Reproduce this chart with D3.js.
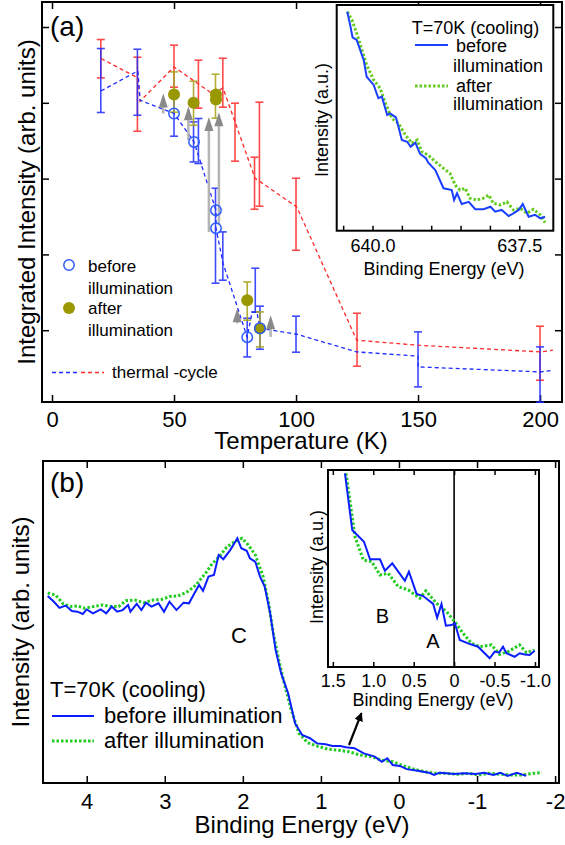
<!DOCTYPE html>
<html>
<head>
<meta charset="utf-8">
<script src="https://cdn.jsdelivr.net/npm/d3@7"></script>
<style>
  body { margin: 0; background: #fff; }
  text { font-family: "Liberation Sans", Arial, Helvetica, sans-serif; fill: #000; }
</style>
</head>
<body>
<script>
// ---- panel (a): integrated intensity vs temperature ----
var redLine = [[20.1,4.584],[35.2,4.329],[36.1,4.021],[50,4.474],[65.6,4.123],[70.1,4.193],[75,3.748],
  [83.2,3.005],[100.3,2.627],[124.9,0.868],[150,0.802],[200.2,0.714],[205.3,0.736]];
var redBars = [[20,4.329,4.835],[35,3.625,4.602],[50,4.206,4.760],[60,3.929,4.562],[70,3.942,4.588],
  [75,3.230,3.995],[83,2.596,3.282],[85,2.636,4.008],[100,2.055,3.005],[125,0.525,1.224],[200,0.340,1.053]];
var blueLine = [[20.1,4.157],[35.2,4.421],[36.1,4.034],[50,3.859],[58.2,3.484],[67.2,2.583],[67.2,2.346],
  [70.1,1.884],[80,0.908],[82,1.237],[84,1.237],[85.2,1.026],[100.3,0.947],[124.9,0.714],[150,0.657],
  [150,0.516],[200.2,0.450],[205.3,0.472]];
var blueBars = [[20,3.872,4.716],[35,3.836,4.707],[50,3.559,4.153],[58,3.220,3.748],[60,3.199,3.793],
  [67,1.620,2.873],[70,1.660,2.297],[80,0.648,1.158],[83.3,1.241,1.818],[85.2,0.749,1.317],
  [100,0.710,1.185],[150,0.252,0.978],[200,0.05,0.780]];
var oliveBars = [[50,3.876,4.408],[58,3.704,4.285],[67,3.797,4.377],[80,1.132,1.637],[85.2,0.780,1.241]];
var beforePts = [[50,3.859],[58.2,3.484],[67.2,2.583],[67.2,2.346],[80,0.908],[85.2,1.026]];
var afterPts = [[50,4.110],[58,4.001],[67.2,4.110],[67.2,4.044],[80,1.396],[85.2,1.022]];
var arrowsA = [[45.6,3.859,4.123],[55.9,3.507,3.955],[64.3,2.297,3.814],[68.4,2.385,3.876],
  [75.9,1.092,1.290],[89.6,0.912,1.198]];
var tempTicks = [0,50,100,150,200];
var intTicks = [1,2,3,4,5];

// inset (a): core level, binding energy (eV) vs intensity
var insAblue = [[640.43,0.970],[640.38,0.911],[640.34,0.857],[640.27,0.845],[640.15,0.756],[640.10,0.682],
  [639.98,0.646],[639.90,0.587],[639.84,0.594],[639.75,0.513],[639.70,0.520],[639.60,0.502],[639.50,0.402],
  [639.41,0.394],[639.35,0.372],[639.27,0.390],[639.19,0.340],[639.09,0.321],[639.05,0.301],[638.93,0.269],
  [638.79,0.188],[638.65,0.180],[638.61,0.136],[638.56,0.166],[638.48,0.118],[638.36,0.128],[638.25,0.095],
  [638.11,0.095],[637.99,0.106],[637.91,0.084],[637.80,0.092],[637.68,0.065],[637.60,0.077],[637.51,0.092],
  [637.44,0.118],[637.34,0.062],[637.23,0.070],[637.14,0.055],[637.06,0.062]];
var insAgreen = [[640.43,0.970],[640.35,0.934],[640.27,0.875],[640.18,0.801],[640.10,0.734],[639.98,0.668],
  [639.87,0.631],[639.78,0.564],[639.67,0.498],[639.56,0.476],[639.44,0.424],[639.33,0.387],[639.24,0.402],
  [639.16,0.350],[639.05,0.335],[638.93,0.306],[638.79,0.276],[638.68,0.254],[638.59,0.202],[638.51,0.180],
  [638.42,0.188],[638.34,0.144],[638.22,0.136],[638.11,0.144],[638.02,0.158],[637.94,0.121],[637.82,0.114],
  [637.71,0.128],[637.60,0.092],[637.48,0.099],[637.37,0.077],[637.26,0.095],[637.14,0.070],[637.06,0.035]];
var insATicks = [640.5,640,639.5,639,638.5,638,637.5];
var insALabels = [640.0,637.5];

// ---- panel (b): valence band ----
var bandBlue = [[4.50,0.581],[4.42,0.563],[4.35,0.544],[4.27,0.551],[4.19,0.534],[4.12,0.532],[4.05,0.525],
  [4.00,0.539],[3.92,0.527],[3.82,0.539],[3.75,0.527],[3.68,0.548],[3.61,0.532],[3.54,0.537],[3.47,0.553],
  [3.44,0.532],[3.36,0.556],[3.30,0.537],[3.24,0.560],[3.17,0.548],[3.08,0.558],[3.01,0.532],[2.94,0.563],
  [2.85,0.537],[2.76,0.560],[2.69,0.558],[2.62,0.589],[2.56,0.615],[2.51,0.597],[2.44,0.641],[2.37,0.646],
  [2.31,0.708],[2.25,0.695],[2.16,0.724],[2.07,0.760],[2.02,0.729],[1.95,0.721],[1.91,0.698],[1.84,0.687],
  [1.78,0.641],[1.72,0.610],[1.65,0.527],[1.58,0.413],[1.51,0.341],[1.42,0.279],[1.33,0.185],[1.24,0.149],
  [1.14,0.139],[1.05,0.123],[0.94,0.120],[0.85,0.115],[0.75,0.115],[0.68,0.111],[0.57,0.108],[0.45,0.092],
  [0.31,0.082],[0.22,0.066],[0.15,0.077],[0.08,0.056],[-0.01,0.053],[-0.10,0.043],[-0.24,0.038],
  [-0.38,0.032],[-0.45,0.025],[-0.52,0.032],[-0.61,0.030],[-0.70,0.028],[-0.84,0.030],[-0.98,0.028],
  [-1.09,0.032],[-1.21,0.025],[-1.30,0.032],[-1.39,0.022],[-1.51,0.032],[-1.63,0.022]];
var bandGreen = [[4.50,0.590],[4.40,0.584],[4.30,0.556],[4.21,0.548],[4.12,0.550],[4.03,0.543],[3.91,0.548],
  [3.80,0.553],[3.68,0.548],[3.59,0.548],[3.50,0.566],[3.38,0.568],[3.27,0.560],[3.15,0.568],[3.04,0.570],
  [2.94,0.579],[2.83,0.581],[2.71,0.594],[2.60,0.615],[2.48,0.651],[2.39,0.682],[2.30,0.703],[2.21,0.732],
  [2.11,0.749],[2.01,0.760],[1.93,0.739],[1.84,0.708],[1.74,0.641],[1.67,0.558],[1.61,0.465],[1.54,0.382],
  [1.47,0.310],[1.38,0.227],[1.28,0.154],[1.17,0.125],[1.05,0.115],[0.91,0.105],[0.78,0.102],[0.64,0.097],
  [0.50,0.087],[0.36,0.082],[0.22,0.071],[0.08,0.066],[-0.06,0.053],[-0.19,0.043],[-0.33,0.035],
  [-0.47,0.030],[-0.61,0.030],[-0.75,0.027],[-0.89,0.030],[-1.02,0.025],[-1.16,0.030],[-1.30,0.027],
  [-1.44,0.025],[-1.58,0.025],[-1.72,0.030],[-1.83,0.032]];
var bandTicks = [4,3,2,1,0,-1,-2];
var arrowB = [[0.64,0.118],[0.48,0.217]];

// inset (b): near the Fermi level
var nearBlue = [[1.35,0.983],[1.26,0.695],[1.115,0.636],[1.04,0.547],[0.917,0.547],[0.856,0.489],
  [0.765,0.526],[0.609,0.438],[0.559,0.484],[0.464,0.371],[0.383,0.360],[0.259,0.320],[0.21,0.250],
  [0.156,0.320],[0.102,0.210],[0.032,0.213],[-0.009,0.222],[-0.07,0.137],[-0.173,0.120],[-0.296,0.103],
  [-0.44,0.044],[-0.502,0.078],[-0.556,0.073],[-0.605,0.103],[-0.647,0.070],[-0.749,0.052],[-0.811,0.070],
  [-0.873,0.064],[-0.935,0.061],[-0.996,0.083]];
var nearGreen = [[1.337,0.983],[1.226,0.661],[1.123,0.543],[1.02,0.535],[0.917,0.467],[0.815,0.476],
  [0.691,0.408],[0.568,0.391],[0.423,0.349],[0.35,0.387],[0.217,0.323],[0.094,0.281],[-0.009,0.230],
  [-0.111,0.171],[-0.215,0.120],[-0.317,0.103],[-0.462,0.112],[-0.564,0.064],[-0.667,0.078],
  [-0.811,0.112],[-0.894,0.073],[-0.996,0.086]];
var nearTicks = [1.5,1.0,0.5,0,-0.5,-1.0];

var W = 565, H = 845;
var svg = d3.select('body').append('svg').attr('width', W).attr('height', H);

var BLUE = '#1f2cff', RED = '#ff2a2a', OLIVE = '#9a9800', GREEN = '#22cc22';

function frame(x0, y0, x1, y1) {
  svg.append('rect').attr('x', x0).attr('y', y0).attr('width', x1 - x0).attr('height', y1 - y0)
    .attr('fill', '#fff').attr('stroke', '#000').attr('stroke-width', 2);
}
function label(txt, x, y, size, anchor, rot) {
  var t = svg.append('text').attr('font-size', size).attr('text-anchor', anchor || 'start').text(txt);
  if (rot) t.attr('transform', 'translate(' + x + ',' + y + ') rotate(-90)');
  else t.attr('x', x).attr('y', y);
  return t;
}
function styleAxis(g, size) {
  g.select('.domain').remove();
  g.selectAll('line').attr('stroke', '#000').attr('stroke-width', 1.5);
  g.selectAll('text').attr('font-size', size).attr('fill', '#000')
    .attr('font-family', '"Liberation Sans", Arial, sans-serif');
}

// ================= panel (a) =================
var xA = d3.scaleLinear().domain([-4.1, 209]).range([42, 562]);
var yA = d3.scaleLinear().domain([0.053, 5.33]).range([402, 2]);
frame(42, 2, 562, 402);

styleAxis(svg.append('g').attr('transform', 'translate(0,402)')
  .call(d3.axisBottom(xA).tickValues(tempTicks).tickSize(-7).tickPadding(9).tickFormat(function(d){ return d; })), 22);
styleAxis(svg.append('g').attr('transform', 'translate(0,2)')
  .call(d3.axisTop(xA).tickValues(tempTicks).tickSize(-7).tickFormat('')), 22);
styleAxis(svg.append('g').attr('transform', 'translate(42,0)')
  .call(d3.axisLeft(yA).tickValues(intTicks).tickSize(-7).tickFormat('')), 22);
styleAxis(svg.append('g').attr('transform', 'translate(562,0)')
  .call(d3.axisRight(yA).tickValues(intTicks).tickSize(-7).tickFormat('')), 22);

var lineA = d3.line().x(function(d){ return xA(d[0]); }).y(function(d){ return yA(d[1]); });

function errBars(data, color, opacity) {
  var g = svg.append('g').attr('stroke', color).attr('stroke-width', 1.6).attr('opacity', opacity);
  data.forEach(function(d) {
    var x = xA(d[0]), y0 = yA(d[1]), y1 = yA(d[2]);
    g.append('line').attr('x1', x).attr('x2', x).attr('y1', y0).attr('y2', y1);
    g.append('line').attr('x1', x - 4).attr('x2', x + 4).attr('y1', y0).attr('y2', y0);
    g.append('line').attr('x1', x - 4).attr('x2', x + 4).attr('y1', y1).attr('y2', y1);
  });
}
errBars(redBars, RED, 0.85);
errBars(blueBars, BLUE, 0.85);
errBars(oliveBars, '#a8a620', 0.9);

svg.append('path').datum(redLine).attr('d', lineA).attr('fill', 'none')
  .attr('stroke', RED).attr('stroke-width', 1.3).attr('stroke-dasharray', '4,3');
svg.append('path').datum(blueLine).attr('d', lineA).attr('fill', 'none')
  .attr('stroke', BLUE).attr('stroke-width', 1.3).attr('stroke-dasharray', '4,3');

// arrows from before to after illumination
arrowsA.forEach(function(d) {
  var x = xA(d[0]), yt = yA(d[1]), yh = yA(d[2]);
  svg.append('line').attr('x1', x).attr('x2', x).attr('y1', yt).attr('y2', yh + 10)
    .attr('stroke', '#b4b4b4').attr('stroke-width', 2.5);
  svg.append('path').attr('d', 'M' + x + ',' + yh + 'L' + (x + 4.5) + ',' + (yh + 14) + 'L' + (x - 4.5) + ',' + (yh + 14) + 'Z')
    .attr('fill', '#8a8a8a');
});

svg.selectAll('.after').data(afterPts).enter().append('circle')
  .attr('cx', function(d){ return xA(d[0]); }).attr('cy', function(d){ return yA(d[1]); })
  .attr('r', 6).attr('fill', OLIVE);
svg.selectAll('.before').data(beforePts).enter().append('circle')
  .attr('cx', function(d){ return xA(d[0]); }).attr('cy', function(d){ return yA(d[1]); })
  .attr('r', 5.2).attr('fill', 'none').attr('stroke', '#2a5cff').attr('stroke-width', 1.5);

// legend (a)
svg.append('circle').attr('cx', 69).attr('cy', 265).attr('r', 5.2).attr('fill', 'none')
  .attr('stroke', '#2a5cff').attr('stroke-width', 1.5);
label('before', 88, 272, 17);
label('illumination', 88, 294, 17);
svg.append('circle').attr('cx', 69).attr('cy', 308).attr('r', 6).attr('fill', OLIVE);
label('after', 88, 314, 17);
label('illumination', 88, 336, 17);
svg.append('line').attr('x1', 52).attr('x2', 79).attr('y1', 372.5).attr('y2', 372.5)
  .attr('stroke', BLUE).attr('stroke-width', 1.3).attr('stroke-dasharray', '4,3');
svg.append('line').attr('x1', 81).attr('x2', 104).attr('y1', 372.5).attr('y2', 372.5)
  .attr('stroke', RED).attr('stroke-width', 1.3).attr('stroke-dasharray', '4,3');
label('thermal -cycle', 112, 378, 17);

label('(a)', 50, 36, 28);
label('Integrated Intensity (arb. units)', 35, 202, 24, 'middle', true);
label('Temperature (K)', 301, 449, 24, 'middle');

// inset (a)
var xAi = d3.scaleLinear().domain([640.61, 636.92]).range([336.7, 553.3]);
var yAi = d3.scaleLinear().domain([0, 1]).range([230.7, 5]);
frame(336.7, 5, 553.3, 230.7);
styleAxis(svg.append('g').attr('transform', 'translate(0,230.7)')
  .call(d3.axisBottom(xAi).tickValues(insATicks).tickSize(-5).tickFormat('')), 18);
styleAxis(svg.append('g').attr('transform', 'translate(0,230.7)')
  .call(d3.axisBottom(xAi).tickValues(insALabels).tickSize(0).tickPadding(9).tickFormat(d3.format('.1f'))), 18);
var lineAi = d3.line().x(function(d){ return xAi(d[0]); }).y(function(d){ return yAi(d[1]); });
svg.append('path').datum(insAgreen).attr('d', lineAi).attr('fill', 'none')
  .attr('stroke', '#66cc22').attr('stroke-width', 3).attr('stroke-dasharray', '2.5,2');
svg.append('path').datum(insAblue).attr('d', lineAi).attr('fill', 'none')
  .attr('stroke', '#1a40ff').attr('stroke-width', 2);
label('T=70K (cooling)', 411.7, 33.5, 18);
svg.append('line').attr('x1', 415).attr('x2', 448).attr('y1', 45).attr('y2', 45)
  .attr('stroke', '#1a40ff').attr('stroke-width', 2.2);
label('before', 456, 52, 18);
label('illumination', 453, 71.5, 18);
svg.append('line').attr('x1', 415).attr('x2', 448).attr('y1', 86).attr('y2', 86)
  .attr('stroke', '#66cc22').attr('stroke-width', 3).attr('stroke-dasharray', '2.5,2');
label('after', 456, 92, 18);
label('illumination', 453, 110, 18);
label('Intensity (a.u.)', 328, 120, 18, 'middle', true);
label('Binding Energy (eV)', 444, 275, 18, 'middle');

// ================= panel (b) =================
var xB = d3.scaleLinear().domain([4.56, -2.05]).range([43, 559]);
var yB = d3.scaleLinear().domain([0, 1]).range([783, 461]);
frame(43, 461, 559, 783);
styleAxis(svg.append('g').attr('transform', 'translate(0,783)')
  .call(d3.axisBottom(xB).tickValues(bandTicks).tickSize(-7).tickPadding(10).tickFormat(function(d){ return String(d); })), 22);
styleAxis(svg.append('g').attr('transform', 'translate(0,461)')
  .call(d3.axisTop(xB).tickValues(bandTicks).tickSize(-7).tickFormat('')), 22);

var lineB = d3.line().x(function(d){ return xB(d[0]); }).y(function(d){ return yB(d[1]); });
svg.append('path').datum(bandGreen).attr('d', lineB).attr('fill', 'none')
  .attr('stroke', GREEN).attr('stroke-width', 3).attr('stroke-dasharray', '2.5,2');
svg.append('path').datum(bandBlue).attr('d', lineB).attr('fill', 'none')
  .attr('stroke', '#0a1eff').attr('stroke-width', 2);

// arrow pointing to inset
svg.append('defs').append('marker').attr('id', 'ah').attr('viewBox', '0 0 10 10')
  .attr('refX', 9).attr('refY', 5).attr('markerWidth', 4).attr('markerHeight', 4).attr('orient', 'auto')
  .append('path').attr('d', 'M0,0L10,5L0,10Z').attr('fill', '#000');
svg.append('line').attr('x1', xB(arrowB[0][0])).attr('y1', yB(arrowB[0][1]))
  .attr('x2', xB(arrowB[1][0])).attr('y2', yB(arrowB[1][1]))
  .attr('stroke', '#000').attr('stroke-width', 2.2).attr('marker-end', 'url(#ah)');

label('C', 239, 643, 22, 'middle');
label('T=70K (cooling)', 50, 697, 22);
svg.append('line').attr('x1', 52).attr('x2', 94).attr('y1', 716).attr('y2', 716)
  .attr('stroke', '#0a1eff').attr('stroke-width', 2.2);
label('before illumination', 104, 723, 22);
svg.append('line').attr('x1', 52).attr('x2', 94).attr('y1', 741).attr('y2', 741)
  .attr('stroke', GREEN).attr('stroke-width', 3).attr('stroke-dasharray', '2.5,2');
label('after illumination', 104, 748, 22);

label('(b)', 50, 492, 28);
label('Intensity (arb. units)', 29, 622, 24, 'middle', true);
label('Binding Energy (eV)', 302, 833, 24, 'middle');

// inset (b)
var xBi = d3.scaleLinear().domain([1.56, -1.05]).range([328, 539]);
var yBi = d3.scaleLinear().domain([0, 1]).range([667, 470]);
frame(328, 470, 539, 667);
styleAxis(svg.append('g').attr('transform', 'translate(0,667)')
  .call(d3.axisBottom(xBi).tickValues(nearTicks).tickSize(-5).tickPadding(7)
    .tickFormat(function(d){ return d === 0 ? '0' : d.toFixed(1); })), 18);
styleAxis(svg.append('g').attr('transform', 'translate(0,470)')
  .call(d3.axisTop(xBi).tickValues(nearTicks).tickSize(-5).tickFormat('')), 18);
svg.append('line').attr('x1', xBi(0)).attr('x2', xBi(0)).attr('y1', 470).attr('y2', 667)
  .attr('stroke', '#000').attr('stroke-width', 1.6);
var lineBi = d3.line().x(function(d){ return xBi(d[0]); }).y(function(d){ return yBi(d[1]); });
svg.append('path').datum(nearGreen).attr('d', lineBi).attr('fill', 'none')
  .attr('stroke', GREEN).attr('stroke-width', 3).attr('stroke-dasharray', '2.5,2');
svg.append('path').datum(nearBlue).attr('d', lineBi).attr('fill', 'none')
  .attr('stroke', '#0a1eff').attr('stroke-width', 2);
label('B', 382.5, 623, 20, 'middle');
label('A', 433, 648, 20, 'middle');
label('Intensity (a.u.)', 323, 567, 18, 'middle', true);
label('Binding Energy (eV)', 433, 706, 18, 'middle');
</script>
</body>
</html>
